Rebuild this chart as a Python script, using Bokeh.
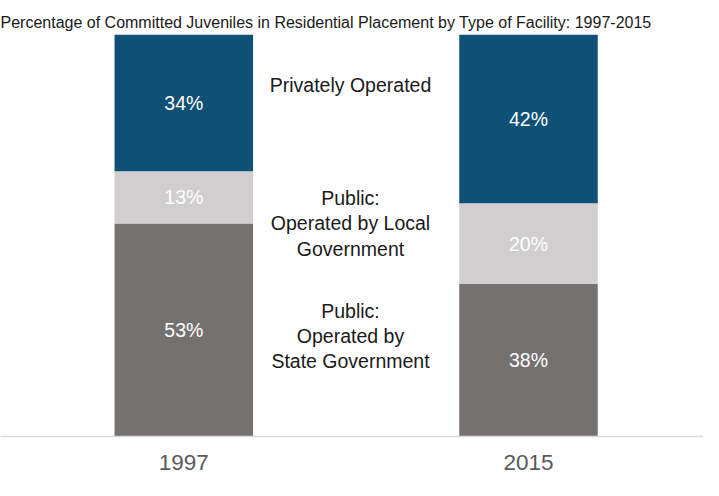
from bokeh.plotting import figure
from bokeh.models import ColumnDataSource, FixedTicker, Range1d
from bokeh.embed import file_html
from bokeh.resources import INLINE
from bokeh.core.properties import value

years = ["1997", "2015"]
state = [53, 38]
local = [13, 20]
private = [34, 42]
series_names = ["Public:\nOperated by\nState Government",
                "Public:\nOperated by Local\nGovernment",
                "Privately Operated"]
colors = ["#767171", "#D0CECE", "#0F5077"]
title_text = "Percentage of Committed  Juveniles in Residential Placement by Type of Facility: 1997-2015"

xs = [1, 2]
bottoms_local = list(state)
tops_local = [s + l for s, l in zip(state, local)]
tops_private = [t + p for t, p in zip(tops_local, private)]

FONT = "Liberation Sans"

p = figure(width=703, height=480, output_backend="svg", toolbar_location=None,
           x_range=Range1d(0.4682, 2.5077), y_range=Range1d(0, 100),
           min_border_left=0, min_border_right=0, min_border_top=34, min_border_bottom=44)
p.title.text = title_text
p.title.align = "left"
p.title.vertical_align = "top"
p.title.text_font = FONT
p.title.text_font_size = "16px"
p.title.text_font_style = "normal"
p.title.text_color = "#1a1a1a"
p.title.standoff = 4
p.outline_line_color = None
p.grid.visible = False
p.yaxis.visible = False
p.background_fill_color = "white"
p.border_fill_color = "white"

bw = 0.4018
src = ColumnDataSource(dict(x=xs, s0=[0, 0], s1=bottoms_local, s2=tops_local, s3=tops_private))
p.vbar(x="x", width=bw, bottom="s0", top="s1", source=src, fill_color=colors[0], line_color=None)
p.vbar(x="x", width=bw, bottom="s1", top="s2", source=src, fill_color=colors[1], line_color=None)
p.vbar(x="x", width=bw, bottom="s2", top="s3", source=src, fill_color=colors[2], line_color=None)

# percentage labels at segment middles
lab = ColumnDataSource(dict(
    x=xs * 3,
    y=[v / 2 for v in state]
      + [b + v / 2 for b, v in zip(bottoms_local, local)]
      + [b + v / 2 for b, v in zip(tops_local, private)],
    t=[f"{v}%" for v in state] + [f"{v}%" for v in local] + [f"{v}%" for v in private],
))
p.text(x="x", y="y", text="t", source=lab, text_align="center", text_baseline="middle",
       text_color="white", text_font=value(FONT), text_font_size="19.5px")

# series names between the bars, near the average middle of each segment
seg_mid_state = sum(v / 2 for v in state) / 2
seg_mid_local = sum(b + v / 2 for b, v in zip(bottoms_local, local)) / 2
seg_mid_private = sum(b + v / 2 for b, v in zip(tops_local, private)) / 2
name_src = ColumnDataSource(dict(x=[1.4836] * 3,
                                 y=[seg_mid_state + 2.15, seg_mid_local - 0.75, seg_mid_private + 6.5],
                                 t=series_names))
p.text(x="x", y="y", text="t", source=name_src, text_align="center", text_baseline="middle",
       text_color="#1a1a1a", text_font=value(FONT), text_font_size="19.5px", text_line_height=1.14)

p.xaxis.ticker = FixedTicker(ticks=xs)
p.xaxis.major_label_overrides = {x: y for x, y in zip(xs, years)}
p.xaxis.axis_line_color = "#D9D9D9"
p.xaxis.axis_line_width = 1.5
p.xaxis.major_tick_line_color = None
p.xaxis.minor_tick_line_color = None
p.xaxis.major_label_text_font = FONT
p.xaxis.major_label_text_font_size = "22.5px"
p.xaxis.major_label_text_color = "#595959"
p.xaxis.major_label_standoff = 12

open("out.html", "w").write(file_html(p, INLINE))
